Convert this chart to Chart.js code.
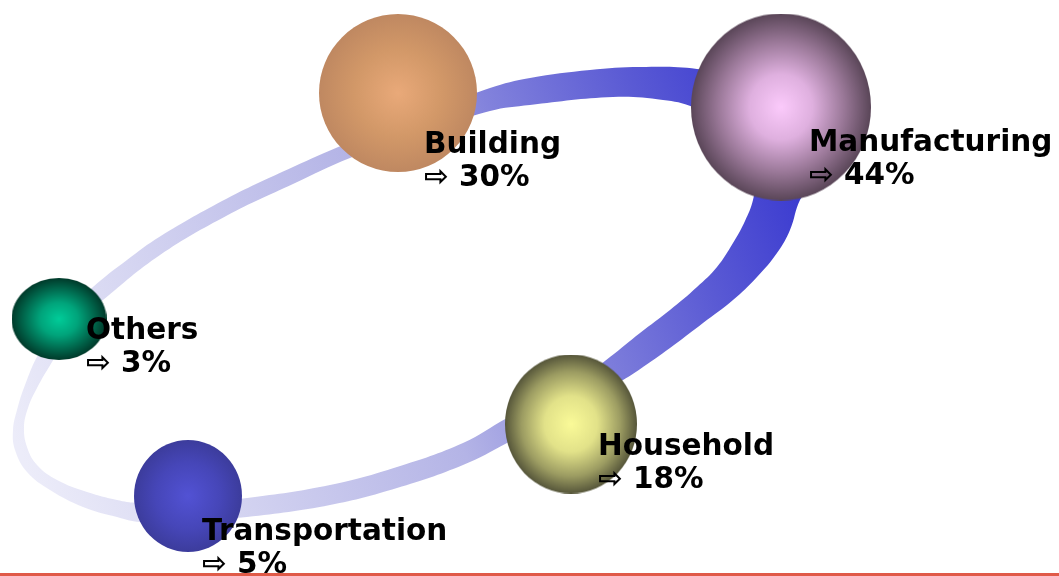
<!DOCTYPE html>
<html>
<head>
<meta charset="utf-8">
<script src="https://cdn.jsdelivr.net/npm/chart.js@4/dist/chart.umd.min.js"></script>
<style>
  html, body { margin: 0; padding: 0; background: #fff; }
  #wrap { width: 1059px; height: 576px; }
</style>
</head>
<body>
<div id="wrap"><canvas id="ringChart" width="1059" height="576"></canvas></div>
<script>
// sectors and their share (%)
const categories = ["Building", "Manufacturing", "Others", "Household", "Transportation"];
const shares = [30, 44, 3, 18, 5];

// where each bubble sits on the ring (axis units)
const posX = [398, 781, 59, 571, 188];
const posY = [93, 107, 319, 424, 496];

// ring edges, clockwise starting under Building
const outerX = [410, 490, 530, 590, 640, 697, 760, 808, 822, 812, 800, 790, 777, 757, 733, 703, 674, 643, 623, 565, 507, 463, 397, 330, 247, 190, 140, 117, 83, 50, 27, 15, 13, 17, 25, 38, 62, 93, 127, 160, 227, 293, 343, 410];
const outerY = [118, 88, 78, 70, 67, 69, 82, 110, 150, 185, 200, 230, 253, 277, 300, 323, 345, 367, 380, 411, 443, 465, 488, 505, 517, 521, 522, 517, 507, 490, 472, 450, 430, 410, 385, 355, 318, 287, 260, 236.5, 198.5, 167, 145, 118];
const innerX = [413, 490, 530, 613, 663, 693, 725, 748, 755, 753, 745, 733, 717, 697, 670, 640, 610, 580, 507, 463, 397, 330, 247, 190, 137, 117, 87, 57, 37, 27, 24, 28, 37, 52, 75, 103, 160, 227, 293, 350, 413];
const innerY = [135.5, 111, 105, 97, 100, 107, 125, 155, 180, 200, 221, 243, 267, 287, 310, 333, 357, 379, 418, 443, 467, 485, 498, 503, 503, 500, 492, 480, 465, 447, 427, 408, 388, 362, 325, 300, 255, 215.5, 184, 158, 135.5];

// styles
const bubbleRX = [79, 90, 47.5, 66, 54];
const bubbleRY = [79, 93.5, 41, 69.5, 56];
const bubbleStops = [
    [[0, "#e9a979"], [0.55, "#d29868"], [1, "#bf8861"]],
    [[0, "#fbcafb"], [0.35, "#dfb0df"], [0.7, "#9a7898"], [1, "#5a4658"]],
    [[0, "#00cc99"], [0.4, "#00a47b"], [1, "#003a2a"]],
    [[0, "#fafa98"], [0.4, "#e2e289"], [0.75, "#9c9c62"], [1, "#56563a"]],
    [[0, "#5252d4"], [0.6, "#4646b8"], [1, "#3c3c9c"]],
];
const labelDX = [26, 28, 27, 27, 14];
const labelDY = [60, 44, 20, 31, 44];

function makeSprite(rx, ry, stops) {
    const c = document.createElement("canvas");
    c.width = Math.ceil(rx * 2);
    c.height = Math.ceil(ry * 2);
    const g = c.getContext("2d");
    g.translate(c.width / 2, c.height / 2);
    g.scale(1, ry / rx);
    const grad = g.createRadialGradient(0, 0, 0, 0, 0, rx);
    stops.forEach(s => grad.addColorStop(s[0], s[1]));
    g.fillStyle = grad;
    g.beginPath();
    g.arc(0, 0, rx, 0, Math.PI * 2);
    g.fill();
    return c;
}
const sprites = categories.map((c, i) => makeSprite(bubbleRX[i], bubbleRY[i], bubbleStops[i]));

function ringGradient(context) {
    const chart = context.chart;
    if (!chart.chartArea) return "#8080dd";
    const xs = chart.scales.x, ys = chart.scales.y;
    const g = chart.ctx.createLinearGradient(
        xs.getPixelForValue(20), ys.getPixelForValue(450),
        xs.getPixelForValue(790), ys.getPixelForValue(150));
    g.addColorStop(0, "#ececf9");
    g.addColorStop(0.5, "#b4b4e6");
    g.addColorStop(0.68, "#8282dc");
    g.addColorStop(0.85, "#5a5ad4");
    g.addColorStop(1, "#3a3ad0");
    return g;
}

const labelPlugin = {
    id: "labels",
    afterDatasetsDraw(chart) {
        const ctx = chart.ctx;
        const xs = chart.scales.x, ys = chart.scales.y;
        ctx.save();
        ctx.fillStyle = "#000";
        ctx.font = "bold 29.5px 'DejaVu Sans'";
        ctx.textBaseline = "alphabetic";
        categories.forEach((name, i) => {
            const x = xs.getPixelForValue(posX[i]) + labelDX[i];
            const y = ys.getPixelForValue(posY[i]) + labelDY[i];
            ctx.fillText(name, x, y);
            ctx.fillText("\u21E8 " + shares[i] + "%", x, y + 33);
        });
        ctx.restore();
    },
    afterDraw(chart) {
        const ctx = chart.ctx;
        ctx.save();
        ctx.fillStyle = "#e05a48";
        ctx.fillRect(0, chart.height - 3, chart.width, 3);
        ctx.restore();
    },
};

const ctx = document.getElementById("ringChart").getContext("2d");
new Chart(ctx, {
    type: "bubble",
    data: {
        datasets: [
            {
                type: "bubble",
                label: "Share",
                order: 1,
                data: categories.map((c, i) => ({ x: posX[i], y: posY[i], r: bubbleRX[i] })),
                pointStyle: (c) => sprites[c.dataIndex],
                borderWidth: 0,
            },
            {
                // hole of the ring
                type: "line",
                label: "Ring inner",
                order: 2,
                data: innerX.map((x, i) => ({ x: x, y: innerY[i] })),
                backgroundColor: "#ffffff",
                borderWidth: 0,
                fill: "shape",
                tension: 0.4,
                pointRadius: 0,
            },
            {
                type: "line",
                label: "Ring",
                order: 3,
                data: outerX.map((x, i) => ({ x: x, y: outerY[i] })),
                backgroundColor: ringGradient,
                borderWidth: 0,
                fill: "shape",
                tension: 0.4,
                pointRadius: 0,
            },
        ],
    },
    options: {
        responsive: false,
        animation: false,
        devicePixelRatio: 1,
        layout: { padding: 0, autoPadding: false },
        plugins: {
            legend: { display: false },
            tooltip: { enabled: false },
        },
        scales: {
            x: { type: "linear", min: 0, max: 1059, display: false },
            y: { type: "linear", min: 0, max: 576, reverse: true, display: false },
        },
    },
    plugins: [labelPlugin],
});
</script>
</body>
</html>
